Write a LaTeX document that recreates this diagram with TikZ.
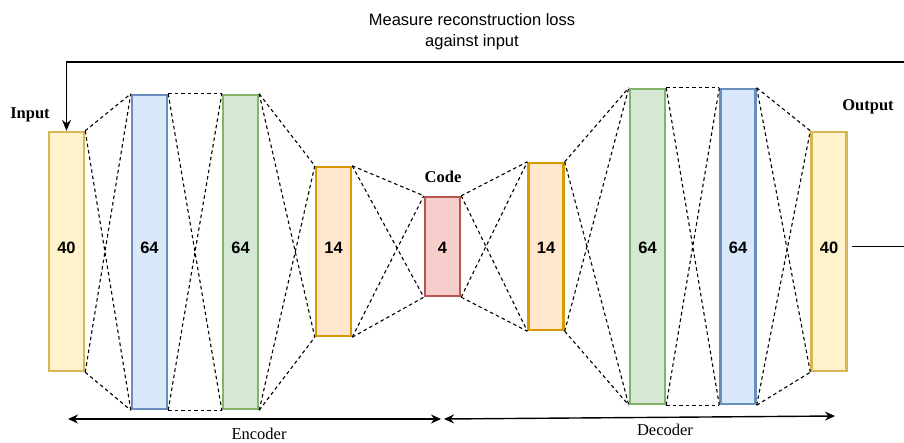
\documentclass[tikz,border=0pt]{standalone}
\usepackage{fontspec}
\setmainfont{Liberation Serif}
\setsansfont{Liberation Sans}
\usetikzlibrary{arrows.meta}
\definecolor{yfill}{HTML}{FFF2CC}\definecolor{ydraw}{HTML}{D6B656}
\definecolor{bfill}{HTML}{DAE8FC}\definecolor{bdraw}{HTML}{6C8EBF}
\definecolor{gfill}{HTML}{D5E8D4}\definecolor{gdraw}{HTML}{82B366}
\definecolor{ofill}{HTML}{FFE6CC}\definecolor{odraw}{HTML}{D79B00}
\definecolor{rfill}{HTML}{F8CECC}\definecolor{rdraw}{HTML}{B85450}
\tikzset{
  layer/.style={rectangle, inner sep=0pt, line width=2.4pt, minimum width=35pt},
  yel/.style={layer, fill=yfill, draw=ydraw},
  blu/.style={layer, fill=bfill, draw=bdraw},
  grn/.style={layer, fill=gfill, draw=gdraw},
  org/.style={layer, fill=ofill, draw=odraw},
  red/.style={layer, fill=rfill, draw=rdraw},
  num/.style={inner sep=0pt, font=\sffamily\bfseries\fontsize{16.5}{18}\selectfont},
  link/.style={dashed, dash pattern=on 3.5pt off 3pt, line width=1.1pt, black},
  tag/.style={font=\rmfamily\bfseries\fontsize{16.5}{18}\selectfont},
  side/.style={font=\rmfamily\fontsize{16.5}{18}\selectfont, anchor=base, inner sep=0pt},
  span/.style={line width=1.4pt, {Stealth[length=10pt,width=9pt]}-{Stealth[length=10pt,width=9pt]}},
}
\newcommand{\joinlayers}[2]{%
  \draw[link] (#1.north east) -- (#2.north west);
  \draw[link] (#1.south east) -- (#2.south west);
  \draw[link] (#1.north east) -- (#2.south west);
  \draw[link] (#1.south east) -- (#2.north west);}
\begin{document}
\begin{tikzpicture}[x=1pt,y=-1pt]
\useasboundingbox (0,0) rectangle (904,442);
% layer stack
\node[yel, minimum height=239pt] (in) at (66.5,251.5) {};
\node[blu, minimum height=314pt] (b1) at (149.5,252) {};
\node[grn, minimum height=314pt] (g1) at (240.5,252) {};
\node[org, minimum height=169pt] (o1) at (333.5,251.5) {};
\node[red, minimum height=99pt] (code) at (442.5,246.5) {};
\node[org, minimum height=167pt] (o2) at (546,246.5) {};
\node[grn, minimum height=315pt] (g2) at (647.5,246.5) {};
\node[blu, minimum height=315pt] (b2) at (738,246.5) {};
\node[yel, minimum height=239pt] (out) at (829,251.5) {};
% layer widths
\coordinate (mid) at (0,247.5);
\node[num] (inN) at (in |- mid) {40};
\node[num] (b1N) at (b1 |- mid) {64};
\node[num] (g1N) at (g1 |- mid) {64};
\node[num] (o1N) at (o1 |- mid) {14};
\node[num] (codeN) at (code |- mid) {4};
\node[num] (o2N) at (o2 |- mid) {14};
\node[num] (g2N) at (g2 |- mid) {64};
\node[num] (b2N) at (b2 |- mid) {64};
\node[num] (outN) at (out |- mid) {40};
% dense connections between neighbouring layers
\joinlayers{in}{b1}
\joinlayers{b1}{g1}
\joinlayers{g1}{o1}
\joinlayers{o1}{code}
\joinlayers{code}{o2}
\joinlayers{o2}{g2}
\joinlayers{g2}{b2}
\joinlayers{b2}{out}
% labels
\node[tag] (lin) at (30,115) {Input};
\node[tag] (lout) at (868,107) {Output};
\node[tag] (lcode) at (443,177) {Code};
\node[font=\sffamily\fontsize{16.5}{21}\selectfont, align=center] (loss) at (472,31.5)
  {Measure reconstruction loss\\against input};
% feedback loop
\coordinate (fbR) at (904,62);
\coordinate (fbL) at (66.5,62);
\coordinate (outA) at (852,246.5);
\coordinate (outR) at (904,246.5);
\draw[line width=1.3pt, -{Stealth[length=11pt,width=9pt]}] (fbR) -- (fbL) -- (in.north);
\draw[line width=1.3pt] (outA) -- (outR);
% encoder / decoder spans
\coordinate (e1) at (68,419);
\coordinate (e2) at (441,419);
\coordinate (d1) at (444,419);
\coordinate (d2) at (835,416);
\draw[span] (e1) -- (e2);
\draw[span] (d1) -- (d2);
\node[side] (enc) at (259,439) {Encoder};
\node[side] (dec) at (665,435.5) {Decoder};
\end{tikzpicture}
\end{document}
